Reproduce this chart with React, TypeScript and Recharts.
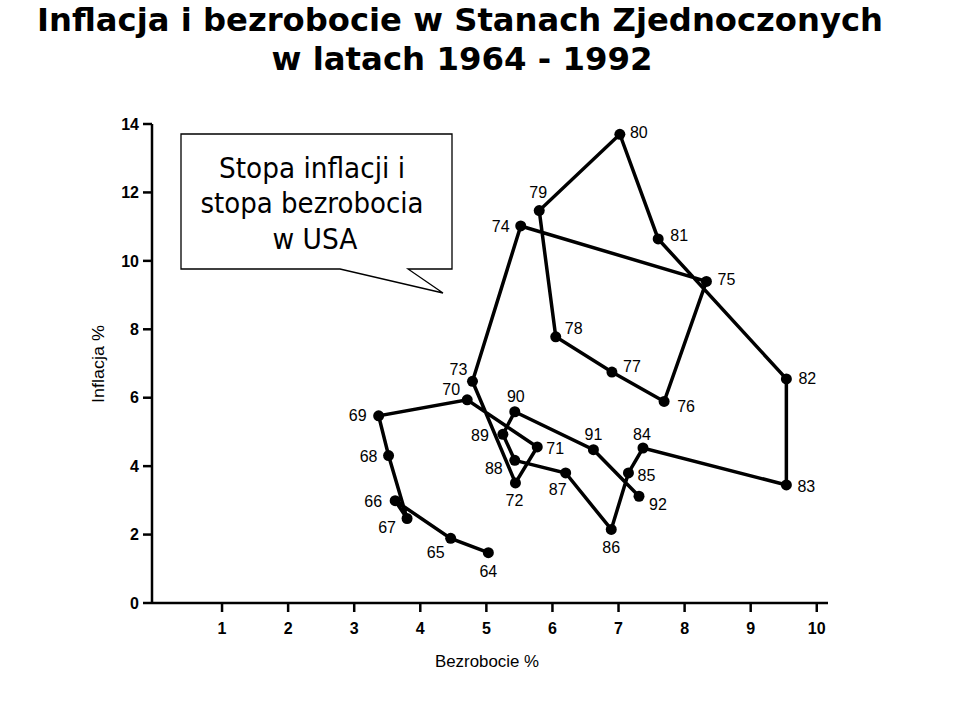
import React from 'react';
import { ScatterChart, Scatter, XAxis, YAxis } from 'recharts';

const years = [64, 65, 66, 67, 68, 69, 70, 71, 72, 73, 74, 75, 76, 77, 78, 79, 80, 81, 82, 83, 84, 85, 86, 87, 88, 89, 90, 91, 92];
const unemployment = [5.03, 4.46, 3.62, 3.80, 3.52, 3.37, 4.71, 5.77, 5.44, 4.79, 5.52, 8.33, 7.69, 6.90, 6.05, 5.80, 7.02, 7.60, 9.54, 9.54, 7.37, 7.15, 6.89, 6.20, 5.43, 5.25, 5.43, 6.62, 7.31];
const inflation = [1.47, 1.89, 2.99, 2.47, 4.31, 5.47, 5.94, 4.56, 3.51, 6.48, 11.02, 9.40, 5.89, 6.75, 7.78, 11.47, 13.70, 10.64, 6.55, 3.45, 4.53, 3.80, 2.15, 3.80, 4.17, 4.93, 5.59, 4.48, 3.12];
const xTicks = [1, 2, 3, 4, 5, 6, 7, 8, 9, 10];
const yTicks = [0, 2, 4, 6, 8, 10, 12, 14];

// label placement offsets (dx, dy) relative to each point, keyed by year
const labelOffsets: Record<number, [number, number]> = {
  64: [0, 19], 65: [-15, 14], 66: [-22, 1], 67: [-20, 9], 68: [-20, 1], 69: [-21, 0],
  70: [-16, -10], 71: [18, 2], 72: [-1, 18], 73: [-14, -12], 74: [-20, 1], 75: [20, -2],
  76: [22, 5], 77: [20, -6], 78: [18, -8], 79: [-1, -18], 80: [19, -2], 81: [21, -3],
  82: [21, 0], 83: [20, 2], 84: [-1, -14], 85: [18, 3], 86: [0, 18], 87: [-8, 17],
  88: [-21, 8], 89: [-23, 1], 90: [1, -15], 91: [0, -15], 92: [19, 8],
};

const data = years.map((yr, i) => ({ year: yr, x: unemployment[i], y: inflation[i] }));

const FONT = 'Liberation Sans, Arial, sans-serif';

const PointShape = (props: any) => {
  const { cx, cy, payload } = props;
  const off = labelOffsets[payload.year] || [15, 0];
  return (
    <g>
      <circle cx={cx} cy={cy} r={5.5} fill="#000" />
      <text
        x={cx + off[0]}
        y={cy + off[1]}
        textAnchor="middle"
        dominantBaseline="central"
        fontFamily={FONT}
        fontSize={16}
        fill="#000"
      >
        {String(payload.year)}
      </text>
    </g>
  );
};

export default function App() {
  return (
    <div style={{ position: 'absolute', left: 0, top: 0, width: 960, height: 705, background: '#fff', overflow: 'hidden' }}>
      <div style={{ position: 'absolute', left: 0, top: 0 }}>
        <ScatterChart width={960} height={705} margin={{ top: 124, right: 132, bottom: 42, left: 92 }}>
          <XAxis
            type="number"
            dataKey="x"
            domain={[-0.06, 10.17]}
            ticks={xTicks}
            allowDataOverflow
            height={60}
            axisLine={{ stroke: '#000', strokeWidth: 2.5 }}
            tickLine={{ stroke: '#000', strokeWidth: 2.5 }}
            tickSize={9}
            tickMargin={11}
            tick={{ fill: '#000', fontSize: 16, fontWeight: 'bold', fontFamily: FONT }}
          />
          <YAxis
            type="number"
            dataKey="y"
            domain={[0, 14]}
            ticks={yTicks}
            allowDataOverflow
            width={60}
            axisLine={{ stroke: '#000', strokeWidth: 2.5 }}
            tickLine={{ stroke: '#000', strokeWidth: 2.5 }}
            tickSize={9}
            tickMargin={4}
            tick={{ fill: '#000', fontSize: 16, fontWeight: 'bold', fontFamily: FONT }}
          />
          <Scatter
            data={data}
            isAnimationActive={false}
            line={{ stroke: '#000', strokeWidth: 3.5 }}
            lineType="joint"
            shape={PointShape}
          />
        </ScatterChart>
      </div>
      <svg width={960} height={705} style={{ position: 'absolute', left: 0, top: 0, pointerEvents: 'none' }}>
        <text x={460} y={31} textAnchor="middle" fontFamily="DejaVu Sans, Verdana, sans-serif" fontWeight="bold" fontSize={32} textLength={846} lengthAdjust="spacingAndGlyphs" fill="#000">
          Inflacja i bezrobocie w Stanach Zjednoczonych
        </text>
        <text x={462} y={70} textAnchor="middle" fontFamily="DejaVu Sans, Verdana, sans-serif" fontWeight="bold" fontSize={32} textLength={381} lengthAdjust="spacingAndGlyphs" fill="#000">
          w latach 1964 - 1992
        </text>
        <path d="M181,134 L452,134 L452,269 L408,269 L443,293 L340,269 L181,269 Z" fill="#fff" stroke="#000" strokeWidth={1.3} />
        <text x={312} y={178} textAnchor="middle" fontFamily="DejaVu Sans, Verdana, sans-serif" fontSize={29} textLength={186} lengthAdjust="spacingAndGlyphs" fill="#000">
          Stopa inflacji i
        </text>
        <text x={312} y={213} textAnchor="middle" fontFamily="DejaVu Sans, Verdana, sans-serif" fontSize={29} textLength={223} lengthAdjust="spacingAndGlyphs" fill="#000">
          stopa bezrobocia
        </text>
        <text x={315} y={249} textAnchor="middle" fontFamily="DejaVu Sans, Verdana, sans-serif" fontSize={29} textLength={85} lengthAdjust="spacingAndGlyphs" fill="#000">
          w USA
        </text>
        <text x={487} y={667} textAnchor="middle" fontFamily={FONT} fontSize={17} textLength={104} lengthAdjust="spacingAndGlyphs" fill="#000">
          Bezrobocie %
        </text>
        <text x={104} y={364} textAnchor="middle" fontFamily={FONT} fontSize={17} textLength={78} lengthAdjust="spacingAndGlyphs" fill="#000" transform="rotate(-90 104 364)">
          Inflacja %
        </text>
      </svg>
    </div>
  );
}
